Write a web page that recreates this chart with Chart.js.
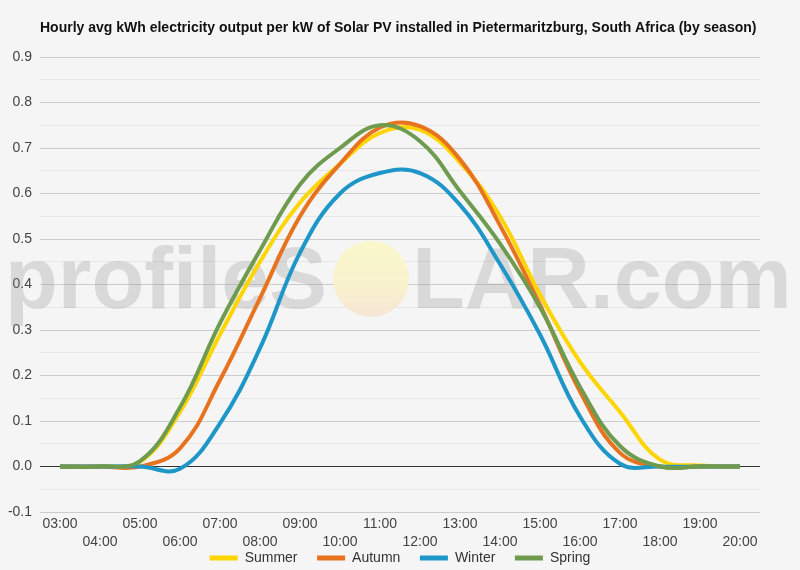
<!DOCTYPE html>
<html>
<head>
<meta charset="utf-8">
<script src="https://cdn.jsdelivr.net/npm/chart.js@4.4.0/dist/chart.umd.min.js"></script>
<style>
  html, body { margin: 0; padding: 0; background: #f5f5f5; }
  canvas { display: block; background: #f5f5f5; }
</style>
</head>
<body>
<canvas id="chart" width="800" height="570"></canvas>
<script>
// hours on the x axis
const hours = ['03:00', '04:00', '05:00', '06:00', '07:00', '08:00', '09:00', '10:00', '11:00',
  '12:00', '13:00', '14:00', '15:00', '16:00', '17:00', '18:00', '19:00', '20:00'];

// kWh per kW
const summer = [0, 0, 0.01, 0.12, 0.29, 0.45, 0.58, 0.665, 0.733, 0.74, 0.668, 0.55, 0.378, 0.23, 0.12, 0.015, 0.002, 0];
const autumn = [0, 0, 0, 0.04, 0.19, 0.37, 0.55, 0.665, 0.745, 0.748, 0.675, 0.53, 0.355, 0.165, 0.03, 0, 0, 0];
const winter = [0, 0, 0, -0.005, 0.095, 0.26, 0.47, 0.6, 0.645, 0.645, 0.575, 0.445, 0.29, 0.11, 0.006, 0, 0, 0];
const spring = [0, 0, 0.012, 0.13, 0.315, 0.475, 0.62, 0.7, 0.75, 0.715, 0.605, 0.49, 0.35, 0.175, 0.045, 0, 0, 0];

const seasonNames = ['Summer', 'Autumn', 'Winter', 'Spring'];
const seasonColors = ['#ffd500', '#e8731f', '#1e96c8', '#6e9b4e'];

const yTicks = { min: -0.1, max: 0.9, step: 0.05 };

const titleText = 'Hourly avg kWh electricity output per kW of Solar PV installed in Pietermaritzburg, South Africa (by season)';
const FONT = '"Liberation Sans", Arial, sans-serif';

// title + watermark drawn on the canvas
const decorations = {
  id: 'decorations',
  beforeDatasetsDraw(chart) {
    const ctx = chart.ctx;
    ctx.save();
    // watermark text
    let size = 86;
    ctx.font = 'bold ' + size + 'px ' + FONT;
    const w = ctx.measureText('profileS').width;
    size = size * 322 / w;
    ctx.font = 'bold ' + size + 'px ' + FONT;
    ctx.fillStyle = 'rgba(140,140,140,0.27)';
    ctx.textBaseline = 'alphabetic';
    ctx.textAlign = 'left';
    ctx.fillText('profileS', 5, 308);
    ctx.fillText('LAR.com', 412, 308);
    // sun
    const g = ctx.createLinearGradient(0, 241, 0, 317);
    g.addColorStop(0, 'rgba(250,248,200,0.95)');
    g.addColorStop(0.6, 'rgba(250,242,205,0.95)');
    g.addColorStop(1, 'rgba(247,228,212,0.95)');
    ctx.fillStyle = g;
    ctx.beginPath();
    ctx.arc(371, 279, 38, 0, Math.PI * 2);
    ctx.fill();
    ctx.restore();
  },
  afterDraw(chart) {
    const ctx = chart.ctx;
    ctx.save();
    ctx.font = 'bold 14px ' + FONT;
    ctx.fillStyle = '#111';
    ctx.textBaseline = 'middle';
    ctx.textAlign = 'left';
    ctx.fillText(titleText, chart.chartArea.left, 28);
    ctx.restore();
  }
};

const datasets = seasonNames.map((name, i) => ({
  label: name,
  data: [summer, autumn, winter, spring][i],
  borderColor: seasonColors[i],
  backgroundColor: seasonColors[i],
  borderWidth: 4,
  pointRadius: 0,
  tension: 0.4,
  fill: false,
  order: 3 - i
}));

new Chart(document.getElementById('chart'), {
  type: 'line',
  data: { labels: hours, datasets: datasets },
  plugins: [decorations],
  options: {
    responsive: false,
    animation: false,
    devicePixelRatio: 1,
    layout: { padding: { top: 57, left: 0, right: 0, bottom: -5 } },
    plugins: {
      tooltip: { enabled: false },
      title: { display: false },
      legend: {
        position: 'bottom',
        labels: {
          boxWidth: 28,
          boxHeight: 5,
          padding: 4,
          color: '#333',
          font: { family: FONT, size: 14 },
          generateLabels: (chart) => {
            const items = Chart.defaults.plugins.legend.labels.generateLabels(chart);
            items.sort((a, b) => a.datasetIndex - b.datasetIndex);
            return items.map((it, k) => Object.assign(it, {
              lineWidth: 0,
              text: k < items.length - 1 ? it.text + '    ' : it.text
            }));
          }
        }
      }
    },
    scales: {
      x: {
        offset: true,
        grid: { display: false, drawTicks: false },
        border: { display: false },
        afterFit: (scale) => { scale.height = 35; },
        ticks: {
          autoSkip: false,
          maxRotation: 0,
          padding: 3,
          color: '#444',
          font: { family: FONT, size: 14, lineHeight: 1.3 },
          callback: function (value, index) {
            const lab = hours[index];
            return index % 2 === 0 ? [lab, ''] : ['', lab];
          }
        }
      },
      y: {
        min: yTicks.min,
        max: yTicks.max,
        afterFit: (scale) => { scale.width = 40; },
        border: { display: false },
        grid: {
          drawTicks: false,
          lineWidth: 1,
          color: (c) => {
            const v = Math.round(c.tick.value * 100);
            if (v === 0) return '#333333';
            return v % 10 === 0 ? '#cccccc' : '#e6e6e6';
          }
        },
        ticks: {
          stepSize: yTicks.step,
          autoSkip: false,
          padding: 8,
          color: '#444',
          font: { family: FONT, size: 14 },
          callback: (v) => {
            const n = Math.round(v * 100);
            return n % 10 === 0 ? (n / 100).toFixed(1) : '';
          }
        }
      },
      // empty right margin so the legend centres on the whole canvas
      yRight: {
        position: 'right',
        afterFit: (scale) => { scale.width = 40; },
        grid: { display: false, drawTicks: false },
        border: { display: false },
        ticks: { display: false }
      }
    }
  }
});
</script>
</body>
</html>
